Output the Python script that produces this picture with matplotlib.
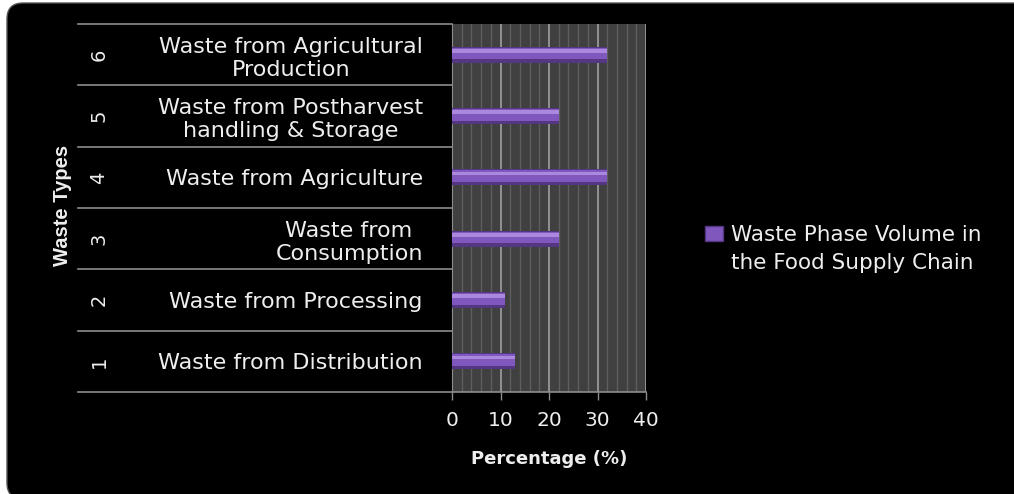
import numpy as np
import matplotlib
matplotlib.use("Agg")
import matplotlib.pyplot as plt
import matplotlib.transforms as mtransforms
from matplotlib.patches import FancyBboxPatch, Patch
from matplotlib.ticker import MultipleLocator

# data
type_nums = ['1', '2', '3', '4', '5', '6']
type_names = ['Waste from Distribution',
              'Waste from Processing',
              'Waste from\nConsumption',
              'Waste from Agriculture',
              'Waste from Postharvest\nhandling & Storage',
              'Waste from Agricultural\nProduction']
percentages = [13, 11, 22, 32, 22, 32]
series_lines = ['Waste Phase Volume in', 'the Food Supply Chain']
x_ticks = [0, 10, 20, 30, 40]

txt = '#eeeeee'
line_col = '#8c8c8c'

fig = plt.figure(figsize=(10.14, 4.94), dpi=100, facecolor='white')

# black rounded panel behind everything (right side runs off the image)
frame = FancyBboxPatch((0.07, -0.05), 12.0, 4.96,
                       boxstyle="round,pad=0,rounding_size=0.16",
                       transform=fig.dpi_scale_trans,
                       facecolor='black', edgecolor='#555555', linewidth=1.0,
                       zorder=-10, clip_on=False)
fig.patches.append(frame)

ax = fig.add_axes([452/1014, 102/494, 194/1014, 368/494])
ax.set_facecolor('#404040')

ypos = np.arange(len(type_nums))
h = 0.26
# bevelled bar look: dark base, mid body, light top strip
ax.barh(ypos, percentages, height=h, color='#553683', zorder=3)
ax.barh(ypos + 0.02, percentages, height=h - 0.07, color='#8058bd', zorder=4)
ax.barh(ypos + 0.065, percentages, height=0.06, color='#a988de', zorder=5)

ax.set_xlim(0, 40)
ax.set_ylim(-0.5, len(type_nums) - 0.5)
ax.set_xticks(x_ticks)
ax.xaxis.set_minor_locator(MultipleLocator(2))
ax.grid(axis='x', which='major', color='#a0a0a0', linewidth=1.2, zorder=1)
ax.grid(axis='x', which='minor', color='#5e5e5e', linewidth=1.0, zorder=1)
ax.set_axisbelow(True)

for s in ['top', 'right']:
    ax.spines[s].set_visible(False)
ax.spines['left'].set_color(line_col)
ax.spines['bottom'].set_visible(False)

ax.tick_params(axis='x', which='major', colors=line_col, length=6, width=1,
               labelcolor=txt, labelsize=14.5, pad=8)
ax.tick_params(axis='x', which='minor', length=0)
ax.set_yticks(ypos)
ax.set_yticklabels(type_names, ha='right', multialignment='center')
ax.tick_params(axis='y', length=0, labelcolor=txt, labelsize=16, pad=21)

# category table lines and number column
blend = mtransforms.blended_transform_factory(ax.transAxes, ax.transData)
for b in np.arange(-0.5, len(type_nums), 1.0):
    ax.plot([-1.928, 0 if b > -0.5 else 1.0], [b, b], color=line_col, lw=1.2,
            transform=blend, clip_on=False, zorder=6)
for y, n in zip(ypos, type_nums):
    ax.text(-1.82, y, n, transform=blend, rotation=90, color=txt,
            fontsize=14, ha='center', va='center')

ax.set_xlabel('Percentage (%)', color=txt, fontsize=13, fontweight='bold',
              labelpad=14)
fig.text(62/1014, 1 - 205/494, 'Waste Types', rotation=90, color=txt,
         fontsize=14.5, fontweight='bold',
         family=['Liberation Sans', 'DejaVu Sans'],
         ha='center', va='center')

# legend: handle beside the first line only
handles = [Patch(facecolor='#8058bd', edgecolor='#553683'),
           Patch(facecolor='none', edgecolor='none')]
fig.legend(handles, series_lines, loc='upper left',
           bbox_to_anchor=(686/1014, 1 - 206/494), frameon=False,
           labelcolor=txt, fontsize=15.5, handlelength=0.8, handleheight=0.7,
           handletextpad=0.4, labelspacing=0.35)

fig.savefig('out.png', dpi=100, facecolor='white')
